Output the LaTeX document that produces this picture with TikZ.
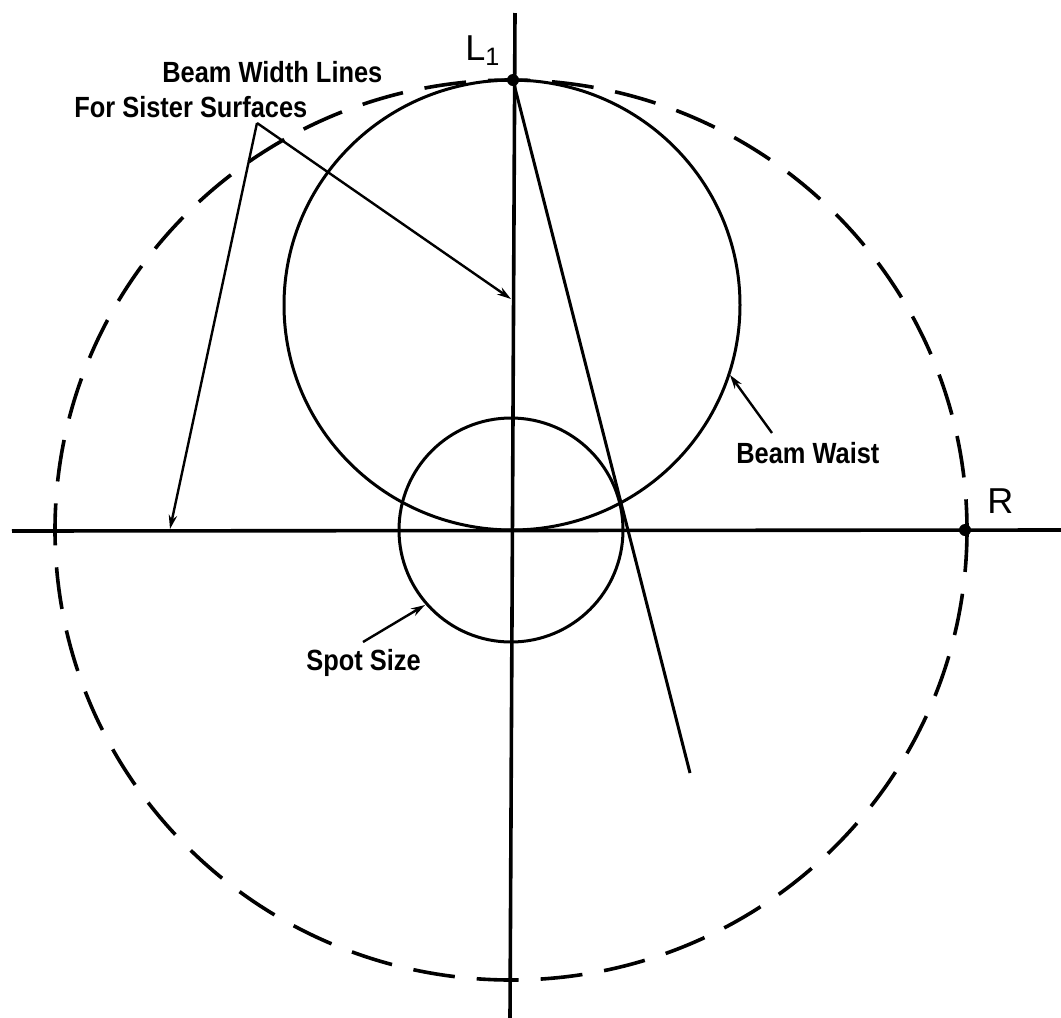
\documentclass[tikz,border=0pt]{standalone}
\usepackage{fontspec}
\setmainfont{Liberation Sans}
\usetikzlibrary{arrows.meta}
\newcommand\narrow[1]{\scalebox{0.87}[1]{#1}}

\begin{document}
\begin{tikzpicture}[x=0.5pt, y=-0.5pt, >={Stealth[length=7pt,width=4.2pt]},
  lbl/.style={font=\bfseries\fontsize{14.6}{17}\selectfont, inner sep=0pt, anchor=base west},
  tag/.style={font=\fontsize{18}{20}\selectfont, inner sep=0pt, anchor=base west},
  axis/.style={line width=1.8pt},
  beam/.style={line width=1.5pt},
  rim/.style={line width=1.8pt, dash pattern=on 21pt off 11pt},
  pointer/.style={->, line width=1.2pt},
  dot/.style={circle, fill, inner sep=0pt, minimum size=6pt}]
\useasboundingbox (0,0) rectangle (1061,1018);
% centres of the rim, the spot and the waist
\coordinate (O) at (511,530);
\coordinate (W) at (512,305);
% axes
\coordinate (top) at (515,13);
\coordinate (bottom) at (510,1018);
\coordinate (left) at (12,531);
\coordinate (right) at (1061,530);
\draw[axis] (top) -- (bottom);
\draw[axis] (left) -- (right);
% circles
\draw[rim] (O) ellipse [x radius=456, y radius=450];
\draw[beam] (W) ellipse [x radius=228, y radius=225];
\draw[beam] (O) circle [radius=112];
% points and ray
\node[dot] (L1) at (513,80) {};
\node[dot] (R) at (965,530) {};
\coordinate (rayend) at (690,773);
\draw[beam] (L1.center) -- (rayend);
\node[tag] (l1lbl) at (465,60) {L\textsubscript{1}};
\node[tag] (rlbl) at (987,513) {R};
% labels and pointers
\node[lbl] (bwl) at (162,82) {\narrow{Beam Width Lines}};
\node[lbl] (fss) at (74,117) {\narrow{For Sister Surfaces}};
\node[lbl] (waist) at (736,463) {\narrow{Beam Waist}};
\node[lbl] (spot) at (306,670) {\narrow{Spot Size}};
\coordinate (apex) at (257,123);
\coordinate (tipV) at (511,299);
\coordinate (tipH) at (170,529);
\coordinate (waisttail) at (772,433);
\coordinate (waisttip) at (730,375);
\coordinate (spottail) at (363,642);
\coordinate (spottip) at (425,605);
\draw[pointer] (apex) -- (tipV);
\draw[pointer] (apex) -- (tipH);
\draw[pointer] (waisttail) -- (waisttip);
\draw[pointer] (spottail) -- (spottip);
\end{tikzpicture}
\end{document}
